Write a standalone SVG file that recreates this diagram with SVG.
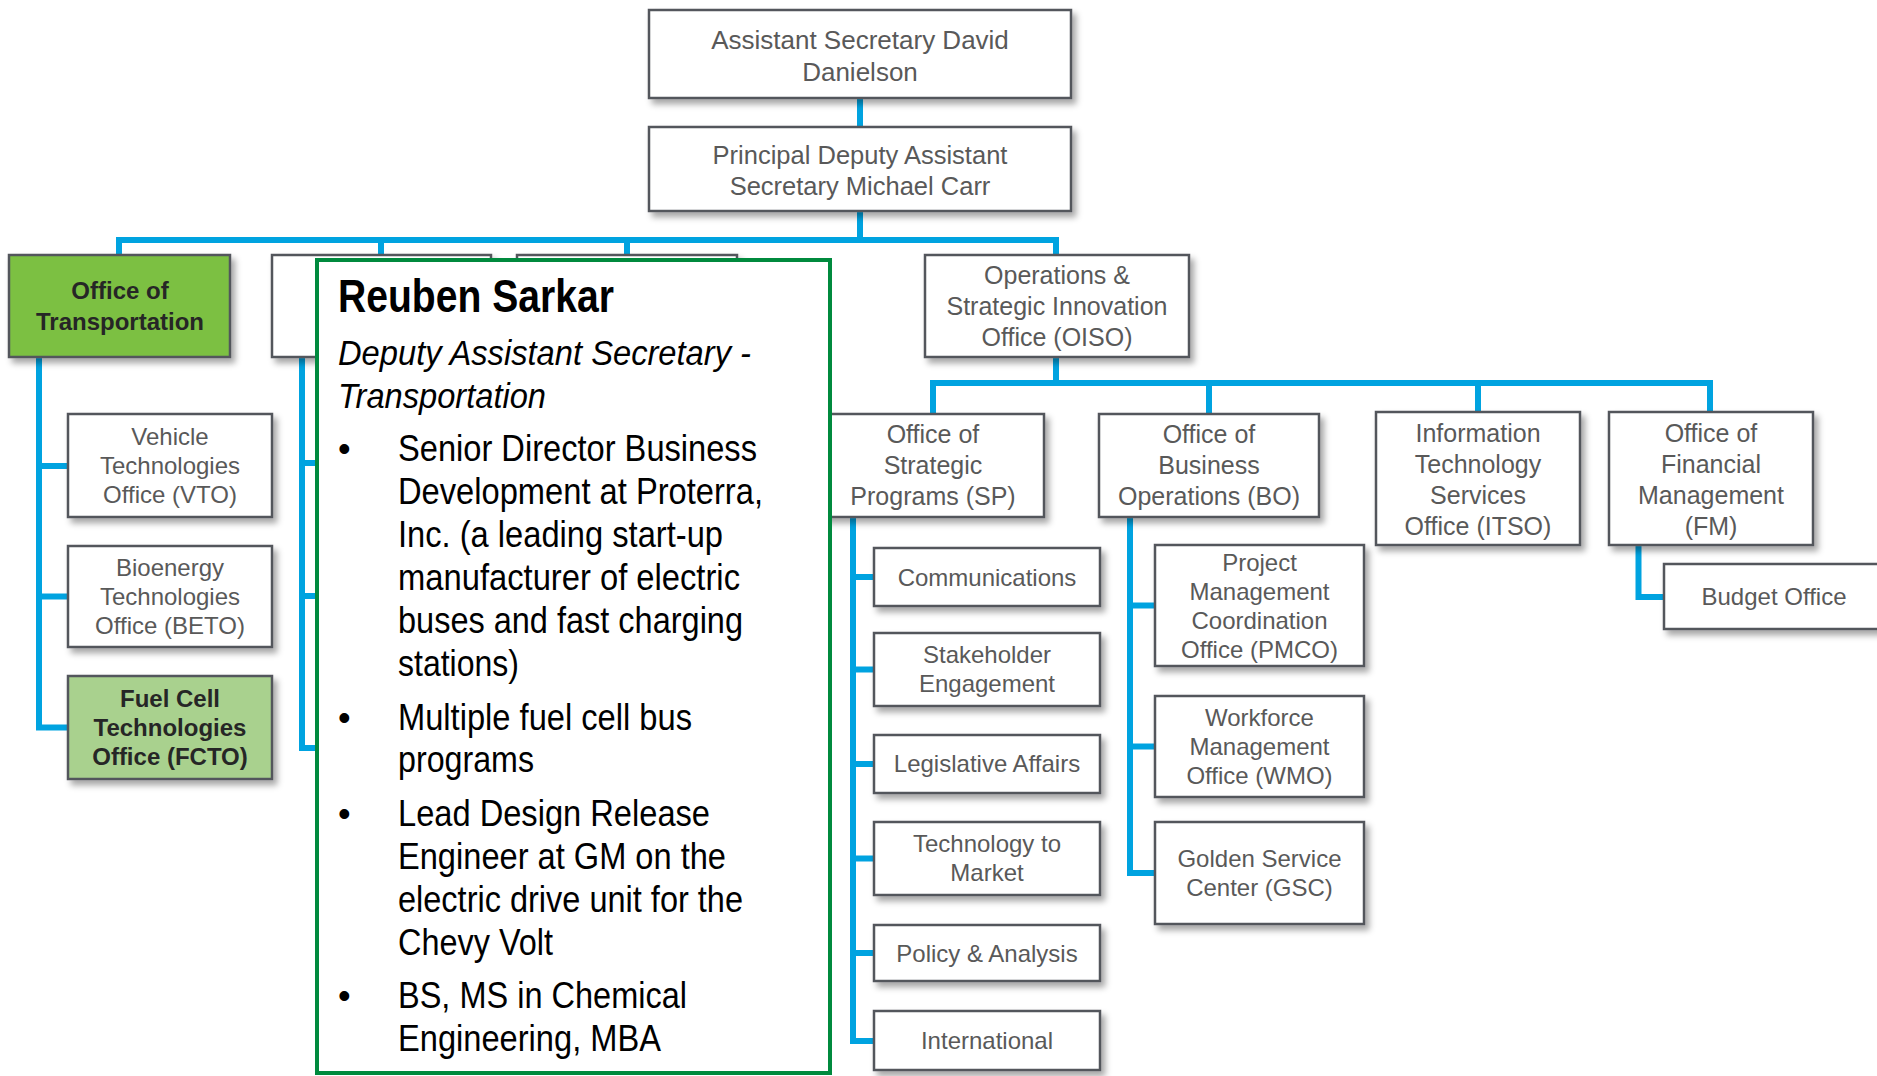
<svg xmlns="http://www.w3.org/2000/svg" width="1877" height="1076" viewBox="0 0 1877 1076">
<defs>
<filter id="sh" x="-10%" y="-10%" width="130%" height="140%">
<feDropShadow dx="4" dy="5" stdDeviation="3" flood-color="#000" flood-opacity="0.35"/>
</filter>
</defs>
<style>
.box{fill:#fff;stroke:#53575c;stroke-width:2.5;filter:url(#sh)}
.lbl{font-family:"Liberation Sans",Arial,sans-serif;fill:#595959;text-anchor:middle}
.f24{font-size:24px}
.f25{font-size:25px}
.bold{font-weight:bold;fill:#262626}
.conn{fill:none;stroke:#00a3e0;stroke-width:6;stroke-linejoin:miter}
.pop{font-family:"Liberation Sans",Arial,sans-serif;fill:#000}
.pb{font-size:36px}
</style>
<rect width="1877" height="1076" fill="#fff"/>
<g id="connectors">
<path class="conn" d="M860 98V127"/>
<path class="conn" d="M860 211V240"/>
<path class="conn" d="M119 255V240H1056V255"/>
<path class="conn" d="M381 240V255"/>
<path class="conn" d="M627 240V255"/>
<path class="conn" d="M1056 357V383"/>
<path class="conn" d="M933 414V383H1710V412"/>
<path class="conn" d="M1209 383V414"/>
<path class="conn" d="M1478 383V412"/>
<path class="conn" d="M39 357V727.5H68"/>
<path class="conn" d="M39 466H68"/>
<path class="conn" d="M39 596.5H68"/>
<path class="conn" d="M302 357V748H318"/>
<path class="conn" d="M302 463H318"/>
<path class="conn" d="M302 596H318"/>
<path class="conn" d="M853 517V1041H874"/>
<path class="conn" d="M853 577H874"/>
<path class="conn" d="M853 669.5H874"/>
<path class="conn" d="M853 764H874"/>
<path class="conn" d="M853 858.5H874"/>
<path class="conn" d="M853 953H874"/>
<path class="conn" d="M1130 517V873H1155"/>
<path class="conn" d="M1130 605.5H1155"/>
<path class="conn" d="M1130 746.5H1155"/>
<path class="conn" d="M1638.5 545V597H1664"/>
</g>
<g id="n-asd">
<rect class="box" x="649" y="10" width="422" height="88"/>
<text class="lbl" font-size="26" x="860" y="48.5">Assistant Secretary David</text>
<text class="lbl" font-size="26" x="860" y="80.5">Danielson</text>
</g>
<g id="n-pdas">
<rect class="box" x="649" y="127" width="422" height="84"/>
<text class="lbl" font-size="25.5" x="860" y="163.5">Principal Deputy Assistant</text>
<text class="lbl" font-size="25.5" x="860" y="194.5">Secretary Michael Carr</text>
</g>
<g id="n-ot">
<rect class="box" x="9" y="255" width="221" height="102" style="fill:#7bc043"/>
<text class="lbl f24 bold" x="120" y="299">Office of</text>
<text class="lbl f24 bold" x="120" y="330">Transportation</text>
</g>
<g id="n-hidden2">
<rect class="box" x="272" y="255" width="219" height="102"/>
</g>
<g id="n-hidden3">
<rect class="box" x="517" y="255" width="220" height="102"/>
</g>
<g id="n-oiso">
<rect class="box" x="925" y="255" width="264" height="102"/>
<text class="lbl f25" x="1057" y="283.5">Operations &amp;</text>
<text class="lbl f25" x="1057" y="314.5">Strategic Innovation</text>
<text class="lbl f25" x="1057" y="345.5">Office (OISO)</text>
</g>
<g id="n-vto">
<rect class="box" x="68" y="414" width="204" height="103"/>
<text class="lbl f24" x="170" y="445">Vehicle</text>
<text class="lbl f24" x="170" y="474">Technologies</text>
<text class="lbl f24" x="170" y="503">Office (VTO)</text>
</g>
<g id="n-beto">
<rect class="box" x="68" y="546" width="204" height="101"/>
<text class="lbl f24" x="170" y="576">Bioenergy</text>
<text class="lbl f24" x="170" y="605">Technologies</text>
<text class="lbl f24" x="170" y="634">Office (BETO)</text>
</g>
<g id="n-fcto">
<rect class="box" x="68" y="676" width="204" height="103" style="fill:#a9d18e"/>
<text class="lbl f24 bold" x="170" y="707">Fuel Cell</text>
<text class="lbl f24 bold" x="170" y="736">Technologies</text>
<text class="lbl f24 bold" x="170" y="765">Office (FCTO)</text>
</g>
<g id="n-sp">
<rect class="box" x="822" y="414" width="222" height="103"/>
<text class="lbl f25" x="933" y="443">Office of</text>
<text class="lbl f25" x="933" y="474">Strategic</text>
<text class="lbl f25" x="933" y="505">Programs (SP)</text>
</g>
<g id="n-bo">
<rect class="box" x="1099" y="414" width="220" height="103"/>
<text class="lbl f25" x="1209" y="443">Office of</text>
<text class="lbl f25" x="1209" y="474">Business</text>
<text class="lbl f25" x="1209" y="505">Operations (BO)</text>
</g>
<g id="n-itso">
<rect class="box" x="1376" y="412" width="204" height="133"/>
<text class="lbl f25" x="1478" y="442">Information</text>
<text class="lbl f25" x="1478" y="473">Technology</text>
<text class="lbl f25" x="1478" y="504">Services</text>
<text class="lbl f25" x="1478" y="535">Office (ITSO)</text>
</g>
<g id="n-fm">
<rect class="box" x="1609" y="412" width="204" height="133"/>
<text class="lbl f25" x="1711" y="442">Office of</text>
<text class="lbl f25" x="1711" y="473">Financial</text>
<text class="lbl f25" x="1711" y="504">Management</text>
<text class="lbl f25" x="1711" y="535">(FM)</text>
</g>
<g id="n-budget">
<rect class="box" x="1664" y="564" width="220" height="65"/>
<text class="lbl f24" x="1774" y="604.5">Budget Office</text>
</g>
<g id="n-comm">
<rect class="box" x="874" y="548" width="226" height="58"/>
<text class="lbl f24" x="987" y="585.5">Communications</text>
</g>
<g id="n-stake">
<rect class="box" x="874" y="633" width="226" height="73"/>
<text class="lbl f24" x="987" y="663">Stakeholder</text>
<text class="lbl f24" x="987" y="692">Engagement</text>
</g>
<g id="n-legis">
<rect class="box" x="874" y="735" width="226" height="58"/>
<text class="lbl f24" x="987" y="772">Legislative Affairs</text>
</g>
<g id="n-tech">
<rect class="box" x="874" y="822" width="226" height="73"/>
<text class="lbl f24" x="987" y="852">Technology to</text>
<text class="lbl f24" x="987" y="881">Market</text>
</g>
<g id="n-policy">
<rect class="box" x="874" y="925" width="226" height="56"/>
<text class="lbl f24" x="987" y="961.5">Policy &amp; Analysis</text>
</g>
<g id="n-intl">
<rect class="box" x="874" y="1011" width="226" height="59"/>
<text class="lbl f24" x="987" y="1049">International</text>
</g>
<g id="n-pmco">
<rect class="box" x="1155" y="545" width="209" height="121"/>
<text class="lbl f24" x="1259.5" y="570.5">Project</text>
<text class="lbl f24" x="1259.5" y="599.5">Management</text>
<text class="lbl f24" x="1259.5" y="628.5">Coordination</text>
<text class="lbl f24" x="1259.5" y="657.5">Office (PMCO)</text>
</g>
<g id="n-wmo">
<rect class="box" x="1155" y="696" width="209" height="101"/>
<text class="lbl f24" x="1259.5" y="726">Workforce</text>
<text class="lbl f24" x="1259.5" y="755">Management</text>
<text class="lbl f24" x="1259.5" y="784">Office (WMO)</text>
</g>
<g id="n-gsc">
<rect class="box" x="1155" y="822" width="209" height="102"/>
<text class="lbl f24" x="1259.5" y="867">Golden Service</text>
<text class="lbl f24" x="1259.5" y="896">Center (GSC)</text>
</g>
<g id="n-popup">
<rect x="317" y="260" width="513" height="813" fill="#fff" stroke="#008a3e" stroke-width="4"/>
<text class="pop" font-size="46" font-weight="bold" x="338" y="312" textLength="276" lengthAdjust="spacingAndGlyphs">Reuben Sarkar</text>
<text class="pop" font-size="35" font-style="italic" x="338" y="365" textLength="413" lengthAdjust="spacingAndGlyphs">Deputy Assistant Secretary -</text>
<text class="pop" font-size="35" font-style="italic" x="338" y="408" textLength="208" lengthAdjust="spacingAndGlyphs">Transportation</text>
<text class="pop pb" x="338" y="461">•</text>
<text class="pop pb" x="338" y="730">•</text>
<text class="pop pb" x="338" y="826">•</text>
<text class="pop pb" x="338" y="1008">•</text>
<text class="pop pb" x="398" y="461" textLength="359" lengthAdjust="spacingAndGlyphs">Senior Director Business</text>
<text class="pop pb" x="398" y="504" textLength="365" lengthAdjust="spacingAndGlyphs">Development at Proterra,</text>
<text class="pop pb" x="398" y="547" textLength="325" lengthAdjust="spacingAndGlyphs">Inc. (a leading start-up</text>
<text class="pop pb" x="398" y="590" textLength="342" lengthAdjust="spacingAndGlyphs">manufacturer of electric</text>
<text class="pop pb" x="398" y="633" textLength="345" lengthAdjust="spacingAndGlyphs">buses and fast charging</text>
<text class="pop pb" x="398" y="676" textLength="121" lengthAdjust="spacingAndGlyphs">stations)</text>
<text class="pop pb" x="398" y="730" textLength="294" lengthAdjust="spacingAndGlyphs">Multiple fuel cell bus</text>
<text class="pop pb" x="398" y="772" textLength="136" lengthAdjust="spacingAndGlyphs">programs</text>
<text class="pop pb" x="398" y="826" textLength="312" lengthAdjust="spacingAndGlyphs">Lead Design Release</text>
<text class="pop pb" x="398" y="869" textLength="328" lengthAdjust="spacingAndGlyphs">Engineer at GM on the</text>
<text class="pop pb" x="398" y="912" textLength="345" lengthAdjust="spacingAndGlyphs">electric drive unit for the</text>
<text class="pop pb" x="398" y="955" textLength="155" lengthAdjust="spacingAndGlyphs">Chevy Volt</text>
<text class="pop pb" x="398" y="1008" textLength="289" lengthAdjust="spacingAndGlyphs">BS, MS in Chemical</text>
<text class="pop pb" x="398" y="1051" textLength="263" lengthAdjust="spacingAndGlyphs">Engineering, MBA</text>
</g>
</svg>
